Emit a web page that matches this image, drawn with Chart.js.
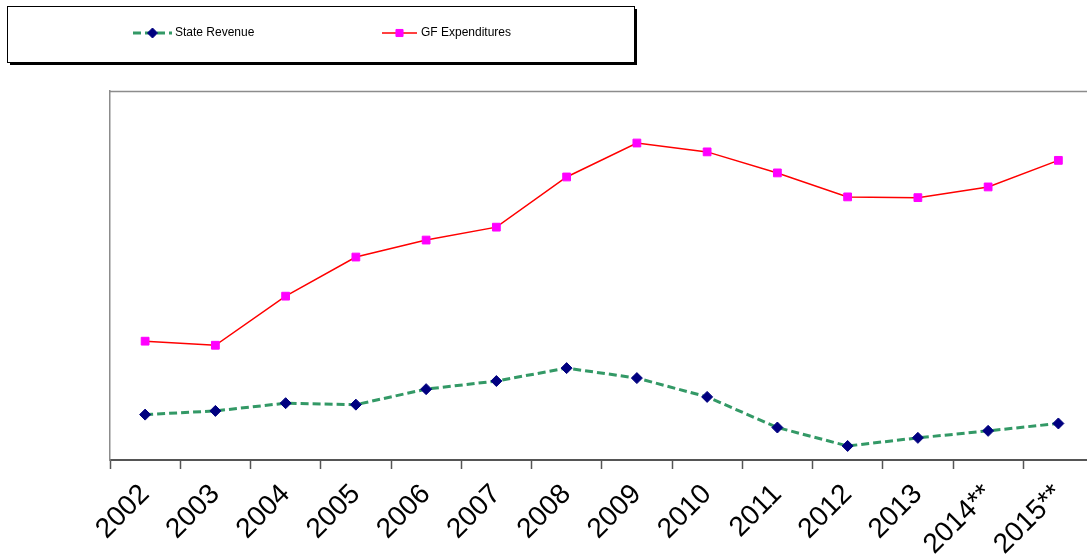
<!DOCTYPE html>
<html>
<head>
<meta charset="utf-8">
<script src="https://cdn.jsdelivr.net/npm/chart.js@4/dist/chart.umd.min.js"></script>
<style>
  html, body { margin: 0; padding: 0; background: #fff; overflow: hidden; }
  #wrap { position: relative; width: 1100px; height: 556px; }
</style>
</head>
<body>
<div id="wrap"><canvas id="chart"></canvas></div>
<script>
// Fiscal years on the category axis
const years = ['2002', '2003', '2004', '2005', '2006', '2007', '2008', '2009',
               '2010', '2011', '2012', '2013', '2014**', '2015**'];

// Series values (relative scale, 0–100)
const stateRevenue = [12.3, 13.3, 15.4, 15.0, 19.2, 21.4, 24.9, 22.2,
                      17.1, 8.8, 3.8, 6.0, 7.9, 9.9];
const gfExpenditures = [32.2, 31.1, 44.4, 55.0, 59.6, 63.1, 76.7, 85.9,
                        83.5, 77.8, 71.3, 71.1, 74.0, 81.2];

const yMin = 0;
const yMax = 100;

const FONT = '"Liberation Sans", Arial, sans-serif';

// Boxed legend with a drop shadow, plus the top edge of the plot frame
const frameAndLegend = {
  id: 'frameAndLegend',
  afterDraw(chart) {
    const ctx = chart.ctx;
    const a = chart.chartArea;
    ctx.save();
    // top edge of plot frame
    ctx.strokeStyle = '#8c8c8c';
    ctx.lineWidth = 1.5;
    ctx.beginPath();
    ctx.moveTo(a.left, a.top + 0.5);
    ctx.lineTo(a.right, a.top + 0.5);
    ctx.stroke();

    // legend box
    const bx = 7, by = 6, bw = 627, bh = 56;
    ctx.fillStyle = '#000';
    ctx.fillRect(bx + 3, by + 3, bw, bh);
    ctx.fillStyle = '#fff';
    ctx.fillRect(bx, by, bw, bh);
    ctx.strokeStyle = '#000';
    ctx.lineWidth = 1;
    ctx.strokeRect(bx + 0.5, by + 0.5, bw, bh);

    const items = [
      { ds: chart.data.datasets[0], x0: 133, x1: 172, tx: 175, r: 5 },
      { ds: chart.data.datasets[1], x0: 382, x1: 417, tx: 421, r: 5 }
    ];
    const ly = 33;
    items.forEach(it => {
      const ds = it.ds;
      ctx.strokeStyle = ds.borderColor;
      ctx.lineWidth = ds.borderWidth;
      ctx.setLineDash(ds.borderDash || []);
      ctx.beginPath();
      ctx.moveTo(it.x0, ly);
      ctx.lineTo(it.x1, ly);
      ctx.stroke();
      ctx.setLineDash([]);
      ctx.fillStyle = ds.pointBackgroundColor;
      ctx.strokeStyle = ds.pointBorderColor;
      ctx.lineWidth = 1;
      Chart.helpers.drawPoint(ctx, {
        pointStyle: ds.pointStyle,
        radius: it.r,
        rotation: 0,
        borderWidth: 1
      }, (it.x0 + it.x1) / 2, ly);
      ctx.fillStyle = '#000';
      ctx.font = '12px ' + FONT;
      ctx.textAlign = 'left';
      ctx.textBaseline = 'middle';
      ctx.fillText(ds.label, it.tx, ly);
    });
    ctx.restore();
  }
};

new Chart(document.getElementById('chart'), {
  type: 'line',
  data: {
    labels: years,
    datasets: [
      {
        label: 'State Revenue',
        data: stateRevenue,
        borderColor: '#339966',
        borderWidth: 3,
        borderDash: [8, 4],
        pointStyle: 'rectRot',
        pointRadius: 5.5,
        pointBackgroundColor: '#000080',
        pointBorderColor: '#000080',
        pointBorderWidth: 1,
        tension: 0,
        fill: false
      },
      {
        label: 'GF Expenditures',
        data: gfExpenditures,
        borderColor: '#ff0000',
        borderWidth: 1.5,
        pointStyle: 'rect',
        pointRadius: 5.5,
        pointBackgroundColor: '#ff00ff',
        pointBorderColor: '#ff00ff',
        pointBorderWidth: 1,
        tension: 0,
        fill: false
      }
    ]
  },
  options: {
    responsive: true,
    maintainAspectRatio: false,
    animation: false,
    layout: { padding: { left: 110, top: 91, right: 3, bottom: 0 } },
    plugins: {
      legend: { display: false },
      tooltip: { enabled: false }
    },
    scales: {
      x: {
        offset: true,
        grid: {
          offset: true,
          drawOnChartArea: false,
          drawTicks: true,
          tickLength: 9,
          tickWidth: 1.5,
          tickColor: '#555'
        },
        border: { display: true, color: '#555', width: 2 },
        ticks: {
          minRotation: 45,
          maxRotation: 45,
          autoSkip: false,
          color: '#000',
          font: { family: FONT, size: 28 },
          padding: 9
        },
        afterFit(scale) { scale.height = 96; }
      },
      y: {
        min: yMin,
        max: yMax,
        grid: { display: false, drawTicks: false },
        border: { display: true, color: '#8c8c8c', width: 1.5 },
        ticks: { display: false },
        afterFit(scale) { scale.width = 0; }
      }
    }
  },
  plugins: [frameAndLegend]
});
</script>
</body>
</html>
